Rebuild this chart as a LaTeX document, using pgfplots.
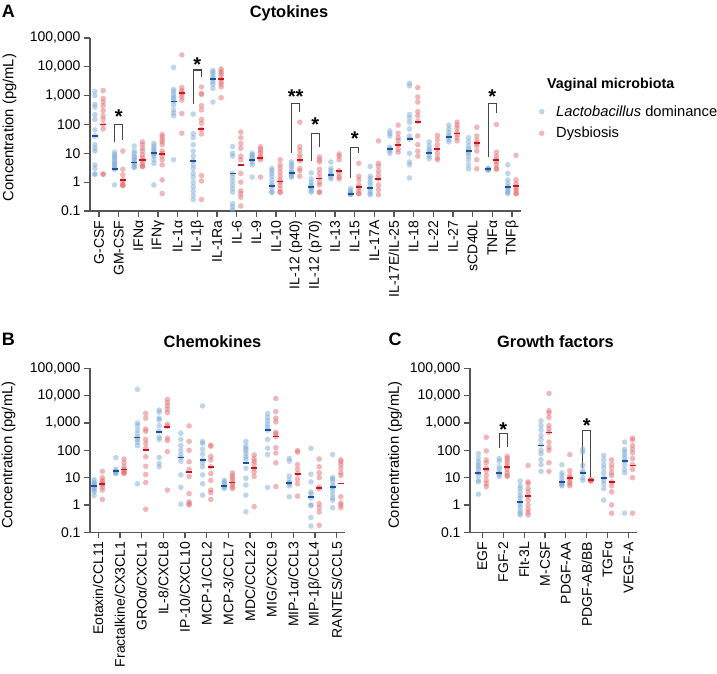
\documentclass[border=0pt]{standalone}
\usepackage{fontspec}
\setmainfont{Liberation Sans}
\usepackage{pgfplots}
\usepackage{pgfplotstable}
\pgfplotsset{compat=1.18}

\definecolor{axgray}{RGB}{85,85,85}
\definecolor{brgray}{RGB}{70,70,70}
\definecolor{ptblue}{RGB}{125,172,214}
\definecolor{ptred}{RGB}{226,112,117}
\definecolor{medblue}{RGB}{30,80,160}
\definecolor{medred}{RGB}{200,20,30}

% ---------------- Panel A: Cytokines ----------------
\pgfplotstableread[row sep=\\]{
c v\\
0 1400\\0 1000\\0 500\\0 400\\0 220\\0 150\\0 65\\0 40\\0 20\\0 15\\0 12\\0 4\\0 3\\0 1.9\\0 1.9\\
1 11\\1 9\\1 8\\1 7\\1 6\\1 5\\1 4.5\\1 4\\1 3.5\\1 3\\1 2.8\\1 0.8\\
2 18\\2 12\\2 10\\2 8\\2 7\\2 6\\2 5\\2 4.7\\2 4\\2 3.3\\2 3.3\\
3 22\\3 18\\3 15\\3 13\\3 11\\3 10\\3 9\\3 8\\3 6\\3 4.5\\3 0.8\\
4 9500\\4 1650\\4 1400\\4 1100\\4 900\\4 800\\4 650\\4 480\\4 320\\4 250\\4 200\\4 6\\
5 230\\5 48\\5 35\\5 20\\5 12\\5 8\\5 5.5\\5 4\\5 3\\5 2\\5 1.5\\5 1\\5 0.7\\5 0.5\\5 0.35\\5 0.25\\
6 7500\\6 6500\\6 5500\\6 4500\\6 3700\\6 3000\\6 2500\\6 1800\\6 600\\
7 17\\7 10\\7 8\\7 2\\7 1.5\\7 1.1\\7 0.8\\7 0.6\\7 0.45\\7 0.18\\7 0.14\\7 0.11\\
8 10\\8 9\\8 8\\8 7\\8 6\\8 5\\8 4\\8 1.5\\
9 3\\9 2.5\\9 2\\9 1.6\\9 1.2\\9 0.9\\9 0.75\\9 0.6\\9 0.45\\9 0.45\\
10 5\\10 4.2\\10 3.5\\10 2.8\\10 2.2\\10 2.1\\10 1.8\\10 1.6\\10 1.5\\
11 2.1\\11 1.3\\11 1.0\\11 0.8\\11 0.7\\11 0.6\\11 0.5\\11 0.45\\
12 5\\12 3\\12 2.5\\12 2\\12 1.8\\12 1.5\\12 1.3\\
13 0.6\\13 0.5\\13 0.45\\13 0.4\\13 0.38\\13 0.38\\
14 3.5\\14 1.6\\14 1.3\\14 1.0\\14 0.8\\14 0.61\\14 0.5\\14 0.4\\14 0.37\\
15 60\\15 48\\15 40\\15 16\\15 14\\15 12\\15 10\\
16 2700\\16 2200\\16 220\\16 170\\16 120\\16 70\\16 40\\16 31\\16 10\\16 5\\16 4\\16 1.4\\
17 25\\17 18\\17 14\\17 12\\17 10\\17 8\\17 6.5\\
18 95\\18 70\\18 55\\18 42\\18 38\\18 30\\18 25\\
19 35\\19 25\\19 18\\19 14\\19 12\\19 10\\19 8\\19 6\\19 4\\19 2.9\\
20 3\\20 2.9\\20 2.8\\20 2.7\\20 2.6\\
21 4\\21 2\\21 1.2\\21 0.9\\21 0.7\\21 0.6\\21 0.5\\21 0.45\\21 0.4\\
}\Ablue

\pgfplotstableread[row sep=\\]{
c v\\
0 1500\\0 800\\0 600\\0 450\\0 300\\0 200\\0 150\\0 100\\0 70\\0 1.9\\0 1.9\\
1 12\\1 2.8\\1 1.8\\1 1.2\\1 1.0\\1 0.8\\1 0.8\\1 0.75\\
2 25\\2 20\\2 15\\2 12\\2 9\\2 7\\2 6\\2 5\\2 4\\2 3.5\\2 3.5\\
3 45\\3 38\\3 30\\3 25\\3 20\\3 12\\3 10\\3 8\\3 6\\3 4\\3 1.2\\3 0.4\\
4 26000\\4 1900\\4 1500\\4 1300\\4 1100\\4 900\\4 700\\4 240\\4 50\\
5 2000\\5 1200\\5 1100\\5 450\\5 320\\5 150\\5 110\\5 68\\5 47\\5 1.7\\5 1.1\\5 0.25\\
6 8500\\6 7000\\6 6000\\6 5000\\6 3800\\6 3000\\6 2500\\6 2000\\6 850\\
7 55\\7 35\\7 22\\7 15\\7 8\\7 6\\7 2\\7 1.0\\7 0.5\\7 0.4\\7 0.3\\7 0.15\\
8 17\\8 14\\8 12\\8 10\\8 8\\8 7\\8 6\\8 1.5\\
9 6\\9 4\\9 3\\9 2.2\\9 1.6\\9 1.2\\9 1.0\\9 0.8\\9 0.6\\9 0.45\\9 0.45\\
10 120\\10 17\\10 13\\10 9\\10 7\\10 5.5\\10 3\\10 2.5\\10 1.6\\
11 7.5\\11 6\\11 5\\11 2.8\\11 2\\11 1.4\\11 1.0\\11 0.8\\11 0.45\\11 0.45\\
12 9.5\\12 8\\12 6\\12 2.5\\12 2\\12 1.5\\12 1.3\\
13 4.5\\13 1.6\\13 1.2\\13 0.8\\13 0.65\\13 0.5\\13 0.4\\13 0.4\\
14 27\\14 4.5\\14 3.6\\14 2.5\\14 1.8\\14 1.3\\14 0.8\\14 0.55\\14 0.37\\
15 95\\15 50\\15 35\\15 28\\15 20\\15 14\\15 11\\
16 1900\\16 900\\16 600\\16 280\\16 200\\16 130\\16 40\\16 20\\16 12\\16 8\\
17 42\\17 30\\17 20\\17 14\\17 10\\17 7\\17 6\\
18 120\\18 95\\18 75\\18 55\\18 45\\18 35\\18 27\\
19 80\\19 40\\19 28\\19 22\\19 18\\19 12\\19 6\\19 2.9\\
20 100\\20 11\\20 8\\20 6\\20 5\\20 4\\20 3\\20 2.8\\
21 8.5\\21 1.2\\21 0.9\\21 0.7\\21 0.6\\21 0.5\\21 0.4\\21 0.4\\
}\Ared

\pgfplotstableread[row sep=\\]{
c b r\\
0 40 100\\1 2.8 1.2\\2 4.8 5.8\\3 10 9.5\\4 630 1200\\5 5.4 68\\6 3700 3900\\7 2.0 4.0\\
8 5.9 7.0\\9 0.76 1.05\\10 2.1 5.9\\11 0.7 1.35\\12 1.8 2.5\\13 0.39 0.69\\14 0.61 1.28\\
15 13.8 19.5\\16 31 125\\17 10.5 13.8\\18 38 49\\19 12 22.5\\20 2.8 5.9\\21 0.7 0.75\\
}\Amed

% ---------------- Panel B: Chemokines ----------------
\pgfplotstableread[row sep=\\]{
c v\\
0 8.5\\0 7\\0 6\\0 5.5\\0 5\\0 4.5\\0 4\\0 3.5\\0 3\\0 2.2\\
1 54\\1 20\\1 18\\1 16\\1 15\\1 14\\
2 17000\\2 1000\\2 800\\2 550\\2 400\\2 300\\2 250\\2 200\\2 150\\2 5.9\\
3 2950\\3 2500\\3 1500\\3 1300\\3 800\\3 500\\3 300\\3 250\\3 55\\3 33\\3 25\\
4 420\\4 250\\4 150\\4 100\\4 70\\4 55\\4 40\\4 12.6\\4 4.4\\4 1.07\\
5 4200\\5 210\\5 180\\5 110\\5 72\\5 45\\5 35\\5 25\\5 12.6\\5 6\\5 2.3\\
6 8\\6 7\\6 6\\6 5\\6 4.5\\6 4\\
7 210\\7 145\\7 118\\7 100\\7 77\\7 59\\7 47\\7 22\\7 9.5\\7 5.4\\7 2.3\\7 0.56\\
8 2200\\8 1600\\8 1200\\8 900\\8 700\\8 550\\8 250\\8 120\\8 70\\8 4.4\\
9 50\\9 40\\9 11.5\\9 8\\9 6.5\\9 6\\9 5\\9 2\\
10 117\\10 13.4\\10 7\\10 3\\10 2.5\\10 1.8\\10 1.0\\10 0.95\\10 0.35\\10 0.17\\
11 70\\11 10\\11 9\\11 7\\11 5\\11 4.5\\11 3.5\\11 2.5\\11 1.8\\11 1.5\\11 0.8\\
}\Bblue

\pgfplotstableread[row sep=\\]{
c v\\
0 17\\0 10\\0 8\\0 7\\0 6\\0 5.5\\0 4.5\\0 3.5\\0 1.6\\
1 48\\1 35\\1 25\\1 20\\1 18\\1 16\\1 15\\1 14\\
2 2240\\2 1500\\2 600\\2 500\\2 250\\2 180\\2 120\\2 58\\2 26\\2 13\\2 6.7\\2 0.7\\
3 7300\\3 5500\\3 4200\\3 3200\\3 2400\\3 900\\3 750\\3 280\\3 225\\3 90\\3 3.5\\
4 780\\4 210\\4 100\\4 38\\4 20\\4 11\\4 2.6\\4 1.3\\4 1.1\\4 1.0\\
5 155\\5 140\\5 60\\5 45\\5 25\\5 14\\5 8\\5 3.5\\5 2.8\\5 1.6\\
6 15\\6 12\\6 10\\6 8\\6 6.5\\6 5.5\\6 4.5\\6 4\\
7 68\\7 50\\7 40\\7 32\\7 22\\7 16\\7 11\\7 0.87\\
8 7900\\8 2600\\8 1500\\8 1100\\8 450\\8 400\\8 320\\8 125\\8 80\\8 35\\8 4.7\\
9 98\\9 85\\9 30\\9 20\\9 14\\9 9\\9 6\\9 2.1\\
10 48\\10 25\\10 15\\10 10\\10 4.5\\10 4\\10 1.1\\10 0.8\\10 0.55\\10 0.18\\
11 45\\11 38\\11 30\\11 22\\11 15\\11 12\\11 2\\11 1.2\\11 1.0\\11 0.8\\
}\Bred

\pgfplotstableread[row sep=\\]{
c b r\\
0 5.0 5.7\\1 17 20\\2 295 100\\3 480 720\\4 55 16.6\\5 45 25\\6 4.9 6.6\\7 35 22\\
8 550 320\\9 6.5 13.5\\10 1.9 4.3\\11 4.5 6.1\\
}\Bmed

% ---------------- Panel C: Growth factors ----------------
\pgfplotstableread[row sep=\\]{
c v\\
0 75\\0 50\\0 38\\0 30\\0 25\\0 20\\0 15\\0 12\\0 8\\0 7\\0 2.5\\
1 50\\1 40\\1 25\\1 20\\1 15\\1 13\\1 11\\
2 7.5\\2 5\\2 4\\2 3\\2 2.2\\2 1.8\\2 1.3\\2 1.0\\2 0.8\\2 0.6\\2 0.5\\2 0.43\\
3 1200\\3 800\\3 550\\3 350\\3 250\\3 160\\3 100\\3 75\\3 45\\3 30\\3 17\\
4 30\\4 15\\4 12\\4 9\\4 7\\4 6\\4 5.5\\4 5\\
5 110\\5 85\\5 28\\5 18\\5 15\\5 10\\5 8\\
6 65\\6 45\\6 30\\6 22\\6 15\\6 10\\6 8\\6 6\\6 4\\6 1.5\\
7 200\\7 110\\7 90\\7 70\\7 55\\7 42\\7 30\\7 20\\7 15\\7 0.5\\
}\Cblue

\pgfplotstableread[row sep=\\]{
c v\\
0 300\\0 95\\0 45\\0 35\\0 22\\0 18\\0 12\\0 8\\0 6\\0 4.7\\
1 60\\1 50\\1 40\\1 32\\1 25\\1 20\\1 15\\1 12\\1 11\\
2 28\\2 7\\2 6\\2 4\\2 3\\2 2.1\\2 1.5\\2 1.0\\2 0.7\\2 0.55\\2 0.43\\
3 12000\\3 2800\\3 2300\\3 1600\\3 800\\3 600\\3 450\\3 200\\3 130\\3 100\\3 35\\3 17\\
4 70\\4 18\\4 12\\4 10\\4 9\\4 7\\4 6\\4 5\\
5 8.5\\5 8\\5 8\\5 7.8\\5 7.5\\
6 45\\6 30\\6 22\\6 15\\6 12\\6 7\\6 5\\6 3\\6 1.0\\6 0.5\\
7 280\\7 240\\7 150\\7 110\\7 80\\7 50\\7 30\\7 20\\7 10\\7 0.5\\
}\Cred

\pgfplotstableread[row sep=\\]{
c b r\\
0 15 21\\1 15 24\\2 1.3 2.1\\3 150 450\\4 7.1 9.5\\5 15 8\\6 10 7\\7 40 28\\
}\Cmed

\pgfplotsset{
  every axis/.append style={
    scale only axis, clip=false,
    tick align=outside, major tick length=6pt,
  },
  bdot/.style={only marks, mark=*, mark size=2.8pt, mark options={draw opacity=0, fill=ptblue, fill opacity=0.5}},
  rdot/.style={only marks, mark=*, mark size=2.8pt, mark options={draw opacity=0, fill=ptred, fill opacity=0.5}},
  bmed/.style={only marks, mark=-, mark size=3pt, mark options={draw=medblue, line width=1.8pt}},
  rmed/.style={only marks, mark=-, mark size=3pt, mark options={draw=medred, line width=1.8pt}},
}
\tikzset{
  sigbr/.style={draw=brgray, line width=1.1pt},
  sigst/.style={font=\fontsize{20}{20}\selectfont\bfseries, yshift=-4.3pt, inner sep=0pt},
}

\begin{document}
\begin{tikzpicture}[x=1pt,y=1pt]
\path[use as bounding box] (0,0) rectangle (717,673);

% titles and panel letters
\node[font=\fontsize{18}{18}\selectfont\bfseries] at (8.3,662) {A};
\node[font=\fontsize{16.4}{18}\selectfont\bfseries] at (289,659.7) {Cytokines};
\node[font=\fontsize{18}{18}\selectfont\bfseries] at (8.3,333.3) {B};
\node[font=\fontsize{16.4}{18}\selectfont\bfseries] at (212.5,331.3) {Chemokines};
\node[font=\fontsize{18}{18}\selectfont\bfseries] at (395,333.3) {C};
\node[font=\fontsize{16.4}{18}\selectfont\bfseries] at (555.5,331.3) {Growth factors};

% legend text
\node[font=\fontsize{14.3}{17}\selectfont\bfseries, anchor=west, inner sep=0pt] at (547,588) {Vaginal microbiota};
\node[font=\fontsize{14.7}{17}\selectfont, anchor=west, inner sep=0pt] at (556,561.3) {\textit{Lactobacillus} dominance};
\node[font=\fontsize{14.7}{17}\selectfont, anchor=west, inner sep=0pt] at (556,539.7) {Dysbiosis};

% ---------------- Panel A ----------------
\begin{axis}[at={(90pt,462pt)}, anchor=south west, width=431pt, height=173pt,
  ymode=log, ymin=0.1, ymax=100000,
  ytick={0.1,1,10,100,1000,10000,100000},
  yticklabels={0.1,1,10,100,{1,000},{10,000},{100,000}},
  yminorticks=false,
  axis x line*=bottom, axis y line*=left,
  axis line style={draw=axgray, line width=1.2pt},
  tick style={draw=axgray, line width=1.2pt},
  xticklabel style={rotate=90, anchor=east, font=\fontsize{14}{16}\selectfont},
  yticklabel style={font=\fontsize{14}{16}\selectfont},
  ylabel style={font=\fontsize{14.8}{17}\selectfont, at={(axis description cs:-0.1868,0.4827)}, anchor=center},
  ylabel={Concentration (pg/mL)},
  xmin=-0.46, xmax=21.46, xtick={0,...,21},
  xticklabels={G-CSF,GM-CSF,IFNα,IFNγ,IL-1α,IL-1β,IL-1Ra,IL-6,IL-9,IL-10,IL-12 (p40),IL-12 (p70),IL-13,IL-15,IL-17A,IL-17E/IL-25,IL-18,IL-22,IL-27,sCD40L,TNFα,TNFβ}]
\addplot[bdot] table[x expr=\thisrow{c}-0.21, y=v] {\Ablue};
\addplot[rdot] table[x expr=\thisrow{c}+0.21, y=v] {\Ared};
\addplot[bmed] table[x expr=\thisrow{c}-0.21, y=b] {\Amed};
\addplot[rmed] table[x expr=\thisrow{c}+0.21, y=r] {\Amed};

\draw[sigbr] (axis cs:0.79,25.3) |- (axis cs:1.21,101.6) -- (axis cs:1.21,29);
\node[sigst] at (axis cs:1,257) {*};
\draw[sigbr] (axis cs:4.79,515) |- (axis cs:5.21,7760) -- (axis cs:5.21,4570);
\node[sigst] at (axis cs:5,16200) {*};
\draw[sigbr] (axis cs:9.79,10.5) |- (axis cs:10.21,543) -- (axis cs:10.21,275);
\node[sigst] at (axis cs:10,1260) {**};
\draw[sigbr] (axis cs:10.79,5.5) |- (axis cs:11.21,49) -- (axis cs:11.21,16.3);
\node[sigst] at (axis cs:11,135) {*};
\draw[sigbr] (axis cs:12.79,1.36) |- (axis cs:13.21,16.3) -- (axis cs:13.21,10);
\node[sigst] at (axis cs:13,47) {*};
\draw[sigbr] (axis cs:19.79,7.3) |- (axis cs:20.21,543) -- (axis cs:20.21,245);
\node[sigst] at (axis cs:20,1320) {*};
\end{axis}

% legend dots (hidden axis in picture coordinates)
\begin{axis}[at={(0pt,0pt)}, anchor=south west, width=717pt, height=673pt,
  xmin=0, xmax=717, ymin=0, ymax=673, hide axis]
\addplot[bdot] coordinates {(541.7,561.3)};
\addplot[rdot] coordinates {(541.7,539.7)};
\end{axis}

% ---------------- Panel B ----------------
\begin{axis}[at={(90pt,140.7pt)}, anchor=south west, width=255pt, height=164pt,
  ymode=log, ymin=0.1, ymax=100000,
  ytick={0.1,1,10,100,1000,10000,100000},
  yticklabels={0.1,1,10,100,{1,000},{10,000},{100,000}},
  yminorticks=false,
  axis x line*=bottom, axis y line*=left,
  axis line style={draw=axgray, line width=1.2pt},
  tick style={draw=axgray, line width=1.2pt},
  xticklabel style={rotate=90, anchor=east, font=\fontsize{14}{16}\selectfont},
  yticklabel style={font=\fontsize{14}{16}\selectfont},
  ylabel style={font=\fontsize{14.8}{17}\selectfont, at={(axis description cs:-0.3196,0.471)}, anchor=center},
  ylabel={Concentration (pg/mL)},
  xmin=-0.38, xmax=11.38, xtick={0,...,11},
  xticklabels={Eotaxin/CCL11,Fractalkine/CX3CL1,GROα/CXCL1,IL-8/CXCL8,IP-10/CXCL10,MCP-1/CCL2,MCP-3/CCL7,MDC/CCL22,MIG/CXCL9,MIP-1α/CCL3,MIP-1β/CCL4,RANTES/CCL5}]
\addplot[bdot] table[x expr=\thisrow{c}-0.19, y=v] {\Bblue};
\addplot[rdot] table[x expr=\thisrow{c}+0.19, y=v] {\Bred};
\addplot[bmed] table[x expr=\thisrow{c}-0.19, y=b] {\Bmed};
\addplot[rmed] table[x expr=\thisrow{c}+0.19, y=r] {\Bmed};
\end{axis}

% ---------------- Panel C ----------------
\begin{axis}[at={(470pt,140.7pt)}, anchor=south west, width=166.7pt, height=164pt,
  ymode=log, ymin=0.1, ymax=100000,
  ytick={0.1,1,10,100,1000,10000,100000},
  yticklabels={0.1,1,10,100,{1,000},{10,000},{100,000}},
  yminorticks=false,
  axis x line*=bottom, axis y line*=left,
  axis line style={draw=axgray, line width=1.2pt},
  tick style={draw=axgray, line width=1.2pt},
  xticklabel style={rotate=90, anchor=east, font=\fontsize{14}{16}\selectfont},
  yticklabel style={font=\fontsize{14}{16}\selectfont},
  ylabel style={font=\fontsize{14.8}{17}\selectfont, at={(axis description cs:-0.45,0.471)}, anchor=center},
  ylabel={Concentration (pg/mL)},
  xmin=-0.59, xmax=7.39, xtick={0,...,7},
  xticklabels={EGF,FGF-2,Flt-3L,M-CSF,PDGF-AA,PDGF-AB/BB,TGFα,VEGF-A}]
\addplot[bdot] table[x expr=\thisrow{c}-0.19, y=v] {\Cblue};
\addplot[rdot] table[x expr=\thisrow{c}+0.19, y=v] {\Cred};
\addplot[bmed] table[x expr=\thisrow{c}-0.19, y=b] {\Cmed};
\addplot[rmed] table[x expr=\thisrow{c}+0.19, y=r] {\Cmed};
\draw[sigbr] (axis cs:0.81,117) |- (axis cs:1.19,417) -- (axis cs:1.19,135);
\node[sigst] at (axis cs:1,850) {*};
\draw[sigbr] (axis cs:4.81,23) |- (axis cs:5.19,550) -- (axis cs:5.19,10.7);
\node[sigst] at (axis cs:5,1120) {*};
\end{axis}
\end{tikzpicture}
\end{document}
